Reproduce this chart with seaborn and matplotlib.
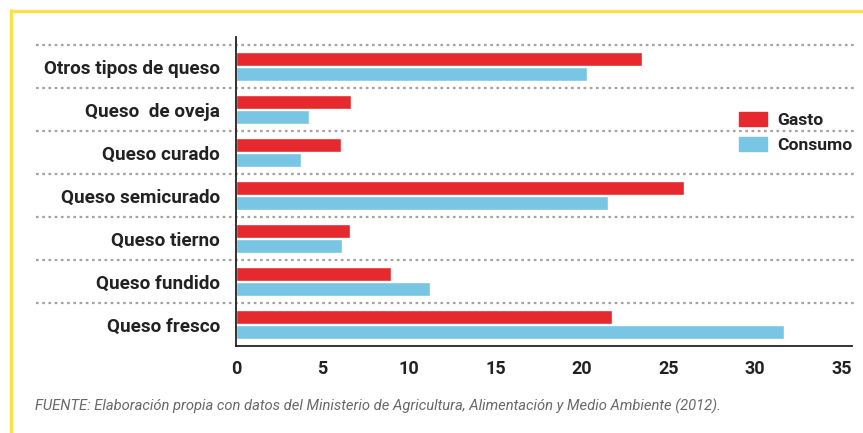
import numpy as np
import pandas as pd
import matplotlib
matplotlib.use('Agg')
import matplotlib.pyplot as plt
import matplotlib.patches as mpatches
from matplotlib.lines import Line2D
import seaborn as sns

# -----------------------------
# Data
# -----------------------------
categories = ['Otros tipos de queso', 'Queso  de oveja', 'Queso curado',
              'Queso semicurado', 'Queso tierno', 'Queso fundido',
              'Queso fresco']
gasto = [23.45, 6.65, 6.05, 25.9, 6.6, 8.95, 21.7]
consumo = [20.3, 4.2, 3.75, 21.5, 6.1, 11.2, 31.65]
series_names = ['Gasto', 'Consumo']
x_ticks = [0, 5, 10, 15, 20, 25, 30, 35]
source_text = ('FUENTE: Elaboración propia con datos del Ministerio de '
               'Agricultura, Alimentación y Medio Ambiente (2012).')

df = pd.DataFrame({
    'categoria': categories * 2,
    'serie': [series_names[0]] * len(categories) + [series_names[1]] * len(categories),
    'valor': gasto + consumo,
})

red = '#E5292C'
blue = '#78C6E4'
text_dark = '#222222'

sns.set_style('white')
plt.rcParams['font.family'] = ['Roboto', 'DejaVu Sans']

fig = plt.figure(figsize=(8.63, 4.33), dpi=100)
ax = fig.add_axes([0.2735, 0.2009, 0.7138, 0.7136])

sns.barplot(data=df, y='categoria', x='valor', hue='serie',
            order=categories, hue_order=series_names,
            palette=[red, blue], width=0.7, gap=0.07,
            orient='h', ax=ax, legend=False, saturation=1)

ax.set_xlim(0, 35.6)
ax.set_ylim(6.49, -0.685)
ax.set_xticks(x_ticks)
ax.set_xlabel('')
ax.set_ylabel('')

for s in ['top', 'right']:
    ax.spines[s].set_visible(False)
for s in ['left', 'bottom']:
    ax.spines[s].set_color(text_dark)
    ax.spines[s].set_linewidth(1.3)

ax.tick_params(axis='both', length=0)
ax.tick_params(axis='y', pad=11.5)
ax.tick_params(axis='x', pad=10)
for lab in ax.get_yticklabels():
    lab.set_fontsize(13.6)
    lab.set_fontweight('bold')
    lab.set_color(text_dark)
for lab in ax.get_xticklabels():
    lab.set_fontsize(13)
    lab.set_fontweight('bold')
    lab.set_color(text_dark)

# dotted separators between categories, extending into the label area
trans = ax.get_yaxis_transform()
for yy in np.arange(-0.5, len(categories) - 1, 1.0):
    ax.add_line(Line2D([-0.3247, 1.005], [yy, yy], transform=trans,
                       color='#a3a3a3', lw=1.6, linestyle=(0, (1.2, 1.6)),
                       clip_on=False, zorder=0))

# legend
handles = [mpatches.Patch(color=red, label=series_names[0]),
           mpatches.Patch(color=blue, label=series_names[1])]
leg = fig.legend(handles=handles, loc='upper left',
                 bbox_to_anchor=(739 / 863, (433 - 112) / 433),
                 frameon=False, borderpad=0, borderaxespad=0,
                 handlelength=1.6, handleheight=0.86, handletextpad=0.6,
                 labelspacing=0.5, prop={'weight': 'bold', 'size': 12.6})
for t in leg.get_texts():
    t.set_color(text_dark)

# yellow frame (top and left)
frame_col = '#FFE04B'
fig.add_artist(Line2D([11 / 863, 1.0], [1 - 11 / 433, 1 - 11 / 433],
                      transform=fig.transFigure, color=frame_col, lw=2.3))
fig.add_artist(Line2D([11 / 863, 11 / 863], [0, 1 - 11 / 433 + 0.0025],
                      transform=fig.transFigure, color=frame_col, lw=2.3))

# source note
fig.text(35 / 863, 1 - 406 / 433, source_text, fontsize=10.6, style='italic',
         color='#686868', va='center', ha='left')

fig.savefig('out.png', dpi=100)
